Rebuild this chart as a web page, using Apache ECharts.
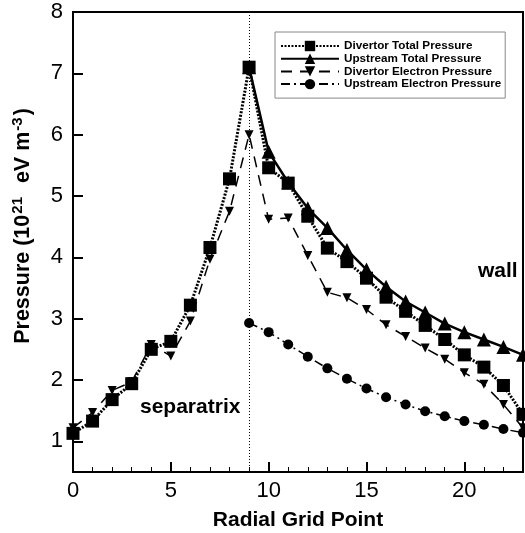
<!DOCTYPE html>
<html>
<head>
<meta charset="utf-8">
<script src="https://cdn.jsdelivr.net/npm/echarts@6/dist/echarts.min.js"></script>
<style>
  html, body { margin: 0; padding: 0; background: #fff; }
  #chart { width: 525px; height: 533px; }
</style>
</head>
<body>
<div id="chart"></div>
<script>
// radial grid points
var gridPoints = [0, 1, 2, 3, 4, 5, 6, 7, 8, 9, 10, 11, 12, 13, 14, 15, 16, 17, 18, 19, 20, 21, 22, 23];

var divertorTotal = [1.13, 1.33, 1.68, 1.94, 2.50, 2.63, 3.22, 4.16, 5.28, 7.10, 5.46, 5.21,
                     4.67, 4.15, 3.93, 3.66, 3.35, 3.12, 2.89, 2.66, 2.41, 2.21, 1.91, 1.44];
var upstreamTotal = [null, null, null, null, null, null, null, null, null, 7.10, 5.72, 5.22,
                     4.80, 4.48, 4.12, 3.80, 3.52, 3.28, 3.10, 2.92, 2.78, 2.66, 2.54, 2.41];
var divertorElectron = [1.22, 1.47, 1.83, 1.97, 2.58, 2.39, 2.96, 3.97, 4.75, 6.00, 4.62, 4.64,
                        4.03, 3.43, 3.34, 3.15, 2.90, 2.71, 2.52, 2.34, 2.12, 1.93, 1.60, 1.22];
var upstreamElectron = [null, null, null, null, null, null, null, null, null, 2.93, 2.78, 2.58,
                        2.38, 2.19, 2.02, 1.86, 1.72, 1.60, 1.49, 1.41, 1.33, 1.27, 1.20, 1.14];

var xTicks = [0, 5, 10, 15, 20];
var yTicks = [1, 2, 3, 4, 5, 6, 7, 8];
var separatrixX = 9;

var seriesNames = ['Divertor Total Pressure', 'Upstream Total Pressure',
                   'Divertor Electron Pressure', 'Upstream Electron Pressure'];

function pairs(ys) {
    var out = [];
    for (var i = 0; i < gridPoints.length; i++) {
        if (ys[i] !== null) out.push([gridPoints[i], ys[i]]);
    }
    return out;
}

var font = 'Liberation Sans, Arial, Helvetica, sans-serif';
var myChart = echarts.init(document.getElementById('chart'));

var option = {
    animation: false,
    textStyle: { fontFamily: font, color: '#000' },
    grid: {
        left: 73, right: 2, top: 12, bottom: 61,
        outerBoundsMode: 'none', containLabel: false,
        show: true, borderColor: '#000', borderWidth: 2
    },
    legend: {
        data: seriesNames,
        orient: 'vertical',
        left: 275, top: 32,
        itemWidth: 58, itemHeight: 13, itemGap: 0.7,
        padding: [8, 4, 8, 5],
        borderColor: '#888', borderWidth: 1,
        textStyle: { fontFamily: font, fontWeight: 'bold', fontSize: 11.7, color: '#000' }
    },
    xAxis: {
        type: 'value', min: 0, max: 23, interval: 5,
        axisLine: { lineStyle: { color: '#000', width: 2 } },
        axisTick: { inside: true, length: 10, lineStyle: { color: '#000', width: 2 } },
        minorTick: { show: true, splitNumber: 5, length: 5, lineStyle: { color: '#000', width: 1 } },
        splitLine: { show: false },
        axisLabel: { fontSize: 22, color: '#000', margin: 8, fontFamily: font, customValues: xTicks },
        name: 'Radial Grid Point', nameLocation: 'middle', nameGap: 38,
        nameTextStyle: { fontSize: 21, fontWeight: 'bold', color: '#000', fontFamily: font }
    },
    yAxis: {
        type: 'value', min: 0.5, max: 8,
        axisLine: { lineStyle: { color: '#000', width: 2 } },
        axisTick: { inside: true, length: 10, customValues: yTicks, lineStyle: { color: '#000', width: 2 } },
        splitLine: { show: false },
        axisLabel: { fontSize: 22, color: '#000', margin: 10, fontFamily: font, customValues: yTicks },
        name: '{a|Pressure (10}{s|21}{a|  eV m}{s|-3}{a|)}',
        nameLocation: 'middle', nameRotate: 90, nameGap: 37,
        nameTextStyle: {
            padding: [0, 0, 0, 32],
            rich: {
                a: { fontSize: 21.5, fontWeight: 'bold', color: '#000', fontFamily: font, lineHeight: 26 },
                s: { fontSize: 15, fontWeight: 'bold', color: '#000', fontFamily: font, verticalAlign: 'top', lineHeight: 14, padding: [0, 2, 0, 1] }
            }
        }
    },
    graphic: [
        { type: 'text', left: 140, top: 397, style: { text: 'separatrix', font: 'bold 21px ' + font, fill: '#000' } },
        { type: 'text', left: 478, top: 261, style: { text: 'wall', font: 'bold 21px ' + font, fill: '#000' } }
    ],
    series: [
        {
            name: seriesNames[3], type: 'line', data: pairs(upstreamElectron),
            symbol: 'circle', symbolSize: 10,
            itemStyle: { color: '#000' },
            lineStyle: { color: '#000', width: 1.5, type: [9, 4, 2, 4] }
        },
        {
            name: seriesNames[2], type: 'line', data: pairs(divertorElectron),
            symbol: 'triangle', symbolSize: 9, symbolRotate: 180,
            itemStyle: { color: '#000' },
            lineStyle: { color: '#000', width: 1.5, type: [11, 8] }
        },
        {
            name: seriesNames[1], type: 'line', data: pairs(upstreamTotal),
            symbol: 'triangle', symbolSize: 14,
            itemStyle: { color: '#000' },
            lineStyle: { color: '#000', width: 2.5, type: 'solid' }
        },
        {
            name: seriesNames[0], type: 'line', data: pairs(divertorTotal),
            symbol: 'rect', symbolSize: 13,
            itemStyle: { color: '#000' },
            lineStyle: { color: '#000', width: 3, type: [2, 1.5] },
            markLine: {
                silent: true, symbol: 'none', label: { show: false },
                lineStyle: { color: '#000', width: 1, type: [1, 2] },
                data: [{ xAxis: separatrixX }]
            }
        }
    ]
};

myChart.setOption(option);
</script>
</body>
</html>
